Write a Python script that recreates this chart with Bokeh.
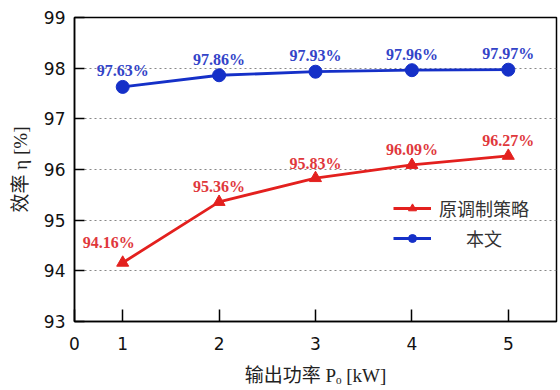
from bokeh.plotting import figure
from bokeh.models import ColumnDataSource, LabelSet, Range1d, FixedTicker, Legend, LegendItem
from bokeh.embed import file_html
from bokeh.resources import INLINE

# ---- data ----
power_kw = [1, 2, 3, 4, 5]
eff_original = [94.16, 95.36, 95.83, 96.09, 96.27]   # 原调制策略
eff_proposed = [97.63, 97.86, 97.93, 97.96, 97.97]   # 本文
series_names = ["原调制策略", "本文"]
x_ticks = [0.5, 1, 2, 3, 4, 5]
x_tick_labels = ["0", "1", "2", "3", "4", "5"]
y_ticks = [93, 94, 95, 96, 97, 98, 99]

RED = "#e3201e"
BLUE = "#1530c8"
RED_TXT = "#e0383c"
BLUE_TXT = "#3344c8"

p = figure(width=558, height=388, output_backend="svg", toolbar_location=None,
           x_range=Range1d(0.5, 5.5), y_range=Range1d(93, 99),
           min_border_left=74, min_border_right=2, min_border_top=17, min_border_bottom=65)
p.background_fill_color = "white"
p.border_fill_color = "white"
p.outline_line_color = "black"
p.outline_line_width = 1.5

src_orig = ColumnDataSource(dict(x=power_kw, y=eff_original,
                                 t=[f"{v:.2f}%" for v in eff_original]))
src_prop = ColumnDataSource(dict(x=power_kw, y=eff_proposed,
                                 t=[f"{v:.2f}%" for v in eff_proposed]))
src_orig_first = ColumnDataSource(dict(x=power_kw[:1], y=eff_original[:1],
                                       t=[f"{v:.2f}%" for v in eff_original[:1]]))
src_orig_rest = ColumnDataSource(dict(x=power_kw[1:], y=eff_original[1:],
                                      t=[f"{v:.2f}%" for v in eff_original[1:]]))

r_line = p.line("x", "y", source=src_orig, color=RED, line_width=2.8)
r_mark = p.scatter("x", "y", source=src_orig, marker="triangle", size=12, color=RED)
b_line = p.line("x", "y", source=src_prop, color=BLUE, line_width=2.8)
b_mark = p.scatter("x", "y", source=src_prop, marker="circle", size=13, color=BLUE)

lab_kw = dict(x="x", y="y", text="t", text_align="center", text_baseline="middle",
              text_font="Liberation Serif", text_font_style="bold", text_font_size="16px")
p.add_layout(LabelSet(source=src_prop, y_offset=16, text_color=BLUE_TXT, **lab_kw))
p.add_layout(LabelSet(source=src_orig_rest, y_offset=15, text_color=RED_TXT, **lab_kw))
p.add_layout(LabelSet(source=src_orig_first, y_offset=20, x_offset=-14, text_color=RED_TXT, **lab_kw))

# axes
p.xaxis.ticker = FixedTicker(ticks=x_ticks)
p.xaxis.major_label_overrides = {t: s for t, s in zip(x_ticks, x_tick_labels)}
p.yaxis.ticker = FixedTicker(ticks=y_ticks)
p.xaxis.minor_tick_line_color = None
p.yaxis.minor_tick_line_color = None
for ax in (p.xaxis, p.yaxis):
    ax.axis_line_color = "black"
    ax.axis_line_width = 1.5
    ax.major_tick_line_color = "black"
    ax.major_tick_line_width = 1.5
    ax.major_tick_out = 0
    ax.major_label_text_font = "DejaVu Sans"
    ax.major_label_text_font_size = "17px"
    ax.major_label_text_color = "#111111"
    ax.axis_label_text_font = "Liberation Serif, Noto Sans CJK SC"
    ax.axis_label_text_font_size = "19px"
    ax.axis_label_text_font_style = "normal"
    ax.axis_label_text_color = "#222222"
p.xaxis.major_tick_in = 12
p.yaxis.major_tick_in = 10
p.xaxis.major_label_standoff = 15
p.yaxis.major_label_standoff = 9
p.xaxis.axis_label = "输出功率 Pₒ [kW]"
p.yaxis.axis_label = "效率 η [%]"
p.xaxis.axis_label_standoff = 12
p.yaxis.axis_label_standoff = 10

# grid
p.xgrid.grid_line_color = None
p.ygrid.ticker = FixedTicker(ticks=y_ticks)
p.ygrid.grid_line_color = "#888888"
p.ygrid.grid_line_dash = "2 3"
p.ygrid.grid_line_width = 1

legend = Legend(items=[LegendItem(label=series_names[0], renderers=[r_line, r_mark]),
                       LegendItem(label="\u3000\u2002" + series_names[1], renderers=[b_line, b_mark])],
                location=(319, 70))
legend.border_line_alpha = 0
legend.background_fill_alpha = 0
legend.padding = 0
legend.margin = 0
legend.glyph_width = 38
legend.glyph_height = 20
legend.label_height = 20
legend.spacing = 4
legend.label_standoff = 8
legend.label_text_font = "Noto Sans CJK SC"
legend.label_text_font_size = "18px"
legend.label_text_color = "#333333"
p.add_layout(legend)

open("out.html", "w").write(file_html(p, INLINE))
